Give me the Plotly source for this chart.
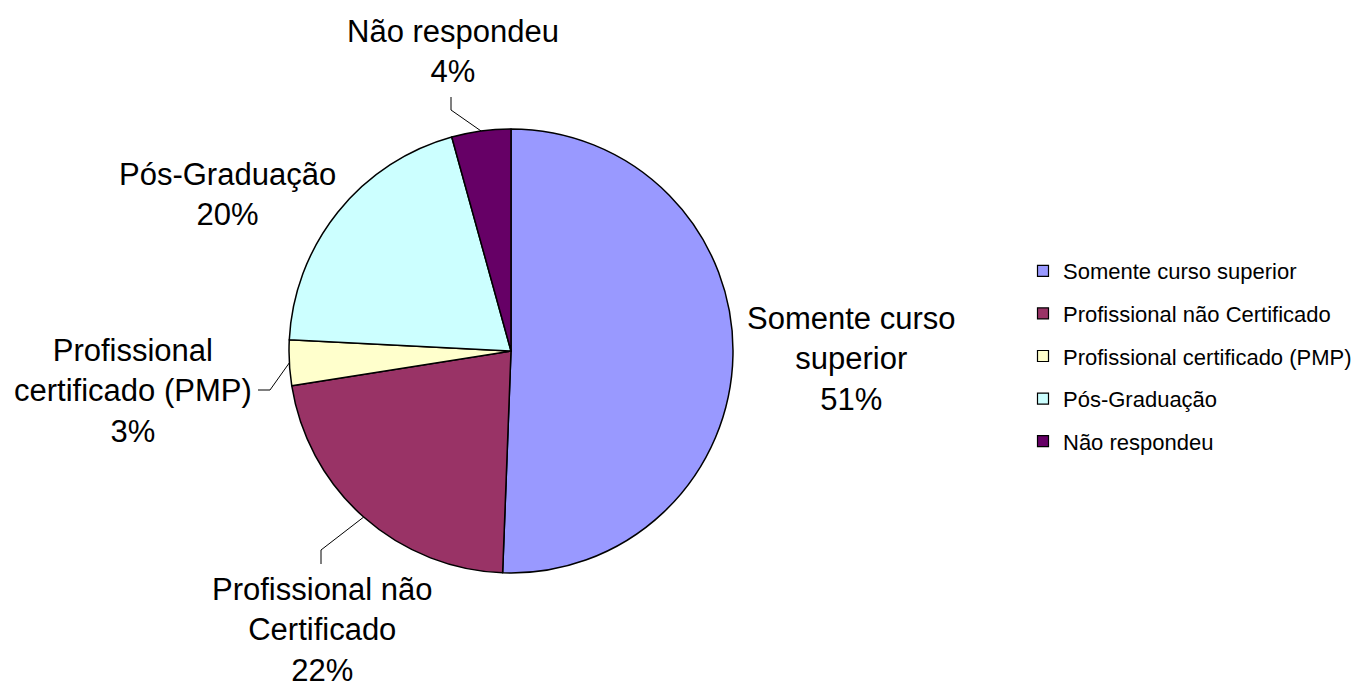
"""Pie chart: formação dos respondentes."""

import math

import plotly.graph_objects as go

labels = [
    "Somente curso superior",
    "Profissional não Certificado",
    "Profissional certificado (PMP)",
    "Pós-Graduação",
    "Não respondeu",
]
label_text = [
    "Somente curso<br>superior",
    "Profissional não<br>Certificado",
    "Profissional<br>certificado (PMP)",
    "Pós-Graduação",
    "Não respondeu",
]
values = [50.6, 21.9, 3.3, 19.9, 4.3]
colors = ["#9999FF", "#993366", "#FFFFCC", "#CCFFFF", "#660066"]

# the page body has an 8px margin, so work in window pixels and shift
OFF = 8
W, H = 1369 - OFF, 687 - OFF
CX, CY, R = 511, 351, 222


def px(x):
    return (x - OFF) / W


def py(y):
    return 1 - (y - OFF) / H


fig = go.Figure()
fig.add_trace(
    go.Pie(
        labels=labels,
        values=values,
        sort=False,
        direction="clockwise",
        rotation=0,
        textinfo="none",
        hoverinfo="label+percent",
        marker=dict(colors=colors, line=dict(color="black", width=1.5)),
        domain=dict(x=[px(CX - R), px(CX + R)], y=[py(CY + R), py(CY - R)]),
        showlegend=False,
    )
)

# legend entries (separate groups so the row spacing can be set)
for name, col in zip(labels, colors):
    fig.add_trace(
        go.Scatter(
            x=[None],
            y=[None],
            mode="markers",
            name=name,
            legendgroup=name,
            marker=dict(symbol="square", size=11, color=col,
                        line=dict(color="black", width=1.2)),
        )
    )

# label placement (text centre in pixels) and optional leader-line elbow
label_pos = [(851, 359), (322, 630), (133, 391), (227, 194), (453, 51)]
elbows = [None, [(321, 564), (321, 550)], [(258, 390), (270, 390)], None,
          [(451, 97), (451, 110)]]

total = sum(values)
cum = 0.0
for i, v in enumerate(values):
    mid = (cum + v / 2) / total * 2 * math.pi
    cum += v
    fig.add_annotation(
        x=px(label_pos[i][0]), y=py(label_pos[i][1]),
        xref="paper", yref="paper", showarrow=False,
        text=f"{label_text[i]}<br>{round(v)}%",
        font=dict(family="Liberation Sans, Arial", size=31, color="black"),
        align="center", xanchor="center", yanchor="middle",
    )
    if elbows[i]:
        ex, ey = CX + R * math.sin(mid), CY - R * math.cos(mid)
        (ax, ay), (bx, by) = elbows[i]
        fig.add_shape(
            type="path", xref="paper", yref="paper",
            path=f"M {px(ax)} {py(ay)} L {px(bx)} {py(by)} L {px(ex)} {py(ey)}",
            line=dict(color="black", width=1),
        )

fig.update_layout(
    width=W,
    height=H,
    margin=dict(l=0, r=0, t=0, b=0),
    paper_bgcolor="white",
    plot_bgcolor="white",
    xaxis=dict(visible=False),
    yaxis=dict(visible=False),
    legend=dict(
        x=px(1023), y=py(356), xanchor="left", yanchor="middle",
        font=dict(family="Liberation Sans, Arial", size=22, color="black"),
        tracegroupgap=11,
        itemclick=False,
    ),
)

fig.write_html("out.html")
